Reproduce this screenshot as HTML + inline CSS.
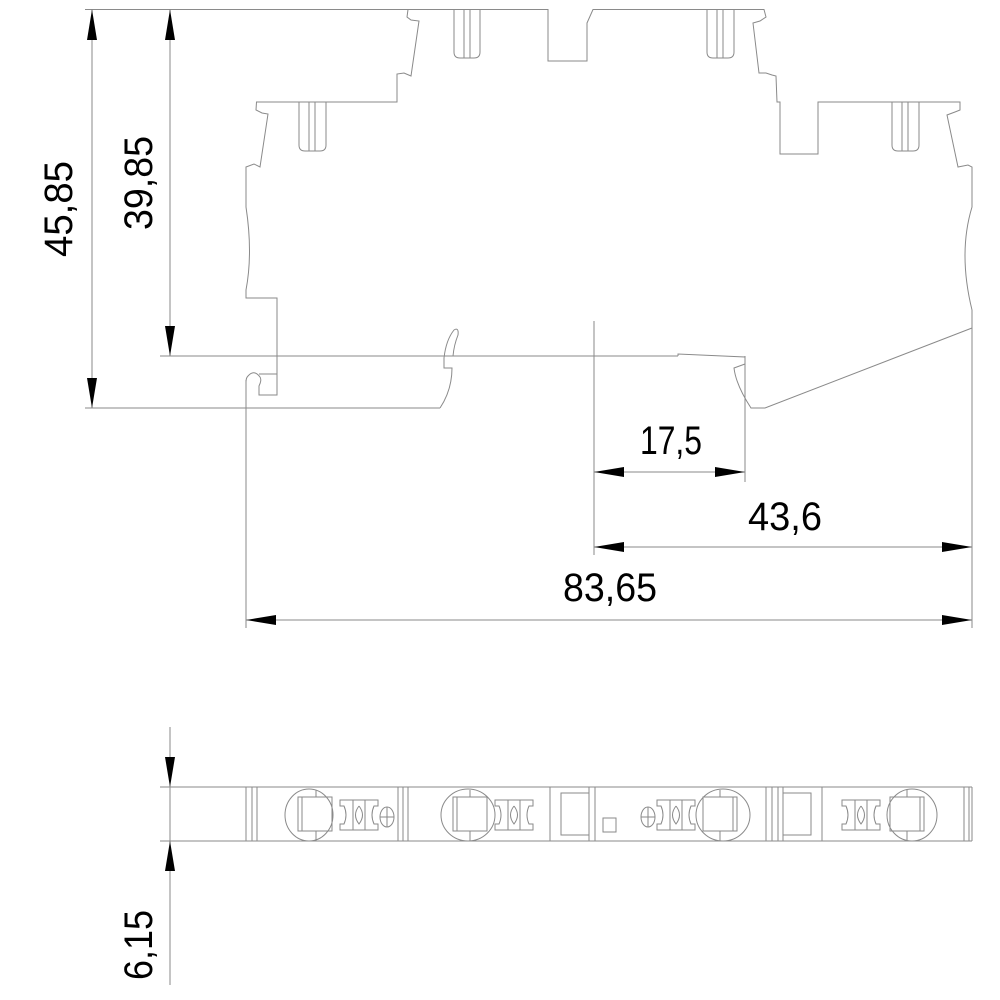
<!DOCTYPE html>
<html><head><meta charset="utf-8"><style>html,body{margin:0;padding:0;background:#fff}svg{display:block}</style></head>
<body>
<svg width="1000" height="1000" viewBox="0 0 1000 1000" xmlns="http://www.w3.org/2000/svg">
<g fill="none" stroke="#8a8a8a" stroke-width="1">
<!-- extension / dimension lines -->
<line x1="85" y1="9.5" x2="408" y2="9.5"/>
<line x1="160" y1="356" x2="678" y2="356"/>
<line x1="85" y1="408" x2="440" y2="408"/>
<line x1="92" y1="9.5" x2="92" y2="408"/>
<line x1="170" y1="9.5" x2="170" y2="356"/>
<line x1="594" y1="321" x2="594" y2="555"/>
<line x1="745" y1="356" x2="745" y2="482"/>
<line x1="972" y1="328" x2="972" y2="628"/>
<line x1="246" y1="380" x2="246" y2="628"/>
<line x1="594" y1="472" x2="745" y2="472"/>
<line x1="594" y1="547" x2="972" y2="547"/>
<line x1="246" y1="620" x2="972" y2="620"/>
<!-- outline -->
<path d="M408,9.5 L548,9.5 L548,61 L587,61 L587,23 L593,9.5 L764,9.5 L766,17 L760,21 L753,23 L759,73 L766,73 L772,75 L776,76 L777,102 L780,102 L780,154 L818,154 L818,102 L960,102 L960,110 L955,112 L947,115 L958,167 L968,165 L972,167 L972,207 Q958,253 972,310 L972,328 L765,408 L751,408 Q736,385 734,368 L745,364 L745,357 L678,354 L678,356"/>
<path d="M745,364 L745,408"/>
<path d="M408,9.5 L407,17 L411,20 L419,21 L411,76 L404,73 L397,74 L397,102 L256.5,102 L256,110 L262,113 L268,114 L260,167 L254,164 L246,167 L246,207 Q253,253 246,290 L246,298 L277,298 L277,395 L259,395 L259,386 Q262,380 260,377 Q254,369 248,376 Q246,378 246,382"/>
<path d="M259,374 L277,374"/>
<path d="M440,408 Q452,390 452,368 L444,368 L444,358 Q446,340 454,330 Q459,327 458,335 Q454,345 453,356"/>
<!-- pins -->
<path d="M454,9.5 L454,52 Q454,58 460,58 L474,58 Q480,58 480,52 L480,9.5 M464,9.5 L464,58 M470,9.5 L470,58"/>
<path d="M707,9.5 L707,52 Q707,58 713,58 L728,58 Q734,58 734,52 L734,9.5 M717,9.5 L717,58 M723,9.5 L723,58"/>
<path d="M299,102 L299,145 Q299,151 305,151 L320,151 Q326,151 326,145 L326,102 M309,102 L309,151 M315,102 L315,151"/>
<path d="M892,102 L892,145 Q892,151 898,151 L913,151 Q919,151 919,145 L919,102 M902,102 L902,151 M908,102 L908,151"/>
<!-- bottom strip -->
<line x1="160" y1="787" x2="972" y2="787"/>
<line x1="160" y1="841" x2="972" y2="841"/>
<line x1="972" y1="787" x2="972" y2="841"/>
<line x1="170" y1="727" x2="170" y2="985"/>
<path d="M246,787V841M252,787V841M257,787V841M398,787V841M403,787V841M408,787V841M550,787V841M589,787V841M595,787V841M766,787V841M772,787V841M778,787V841M783,787V841M822,787V841M964,787V841M969,787V841"/>
<g>
<ellipse cx="309" cy="815" rx="24" ry="26"/><rect x="298" y="797" width="34" height="34"/><line x1="302" y1="797" x2="302" y2="831"/><line x1="316" y1="790" x2="316" y2="797"/><line x1="316" y1="831" x2="316" y2="841"/>
<ellipse cx="468" cy="815" rx="27" ry="26"/><rect x="453" y="797" width="34" height="34"/><line x1="457" y1="797" x2="457" y2="831"/><line x1="470" y1="790" x2="470" y2="797"/><line x1="470" y1="831" x2="470" y2="841"/>
<ellipse cx="723" cy="815" rx="27" ry="26"/><rect x="703" y="797" width="34" height="34"/><line x1="733" y1="797" x2="733" y2="831"/><line x1="720" y1="790" x2="720" y2="797"/><line x1="720" y1="831" x2="720" y2="841"/>
<ellipse cx="912" cy="815" rx="25" ry="26"/><rect x="890" y="797" width="34" height="34"/><line x1="920" y1="797" x2="920" y2="831"/><line x1="907" y1="790" x2="907" y2="797"/><line x1="907" y1="831" x2="907" y2="841"/>
</g>
<g id="h">
<path d="M340,800 L378,800 L378,806 L374,806 Q370,815 374,824 L378,824 L378,830 L340,830 L340,824 L344,824 Q348,815 344,806 L340,806 Z"/>
<path d="M353,800 V830 M365,800 V830 M359,806 Q352,815 359,824 Q366,815 359,806"/>
</g>
<use href="#h" x="155"/>
<use href="#h" x="317"/>
<use href="#h" x="502"/>
<ellipse cx="387" cy="817" rx="7" ry="10"/><path d="M380,817H394M387,807V827"/>
<ellipse cx="648" cy="817" rx="7" ry="10"/><path d="M641,817H655M648,807V827"/>
<rect x="603" y="818" width="13" height="14"/>
<rect x="561" y="793" width="28" height="42"/>
<rect x="783" y="793" width="28" height="42"/>
</g>
<!-- arrowheads -->
<g fill="#000">
<polygon points="92,9.5 87,40 97,40"/><polygon points="92,408 87,378 97,378"/>
<polygon points="170,9.5 165,40 175,40"/><polygon points="170,356 165,326 175,326"/>
<polygon points="594,472 624,467 624,477"/><polygon points="745,472 715,467 715,477"/>
<polygon points="594,547 624,542 624,552"/><polygon points="972,547 942,542 942,552"/>
<polygon points="246,620 276,615 276,625"/><polygon points="972,620 942,615 942,625"/>
<polygon points="170,787 165,757 175,757"/><polygon points="170,841 165,871 175,871"/>
</g>
<g font-family="Liberation Sans, sans-serif" font-size="40" fill="#000">
<text x="640" y="454" textLength="62" lengthAdjust="spacingAndGlyphs">17,5</text>
<text x="748" y="530" textLength="74" lengthAdjust="spacingAndGlyphs">43,6</text>
<text x="563" y="601" textLength="94" lengthAdjust="spacingAndGlyphs">83,65</text>
<text transform="translate(72,257) rotate(-90)" textLength="96" lengthAdjust="spacingAndGlyphs">45,85</text>
<text transform="translate(152,230) rotate(-90)" textLength="94" lengthAdjust="spacingAndGlyphs">39,85</text>
<text transform="translate(152,980) rotate(-90)" textLength="70" lengthAdjust="spacingAndGlyphs">6,15</text>
</g>
</svg>
</body></html>
